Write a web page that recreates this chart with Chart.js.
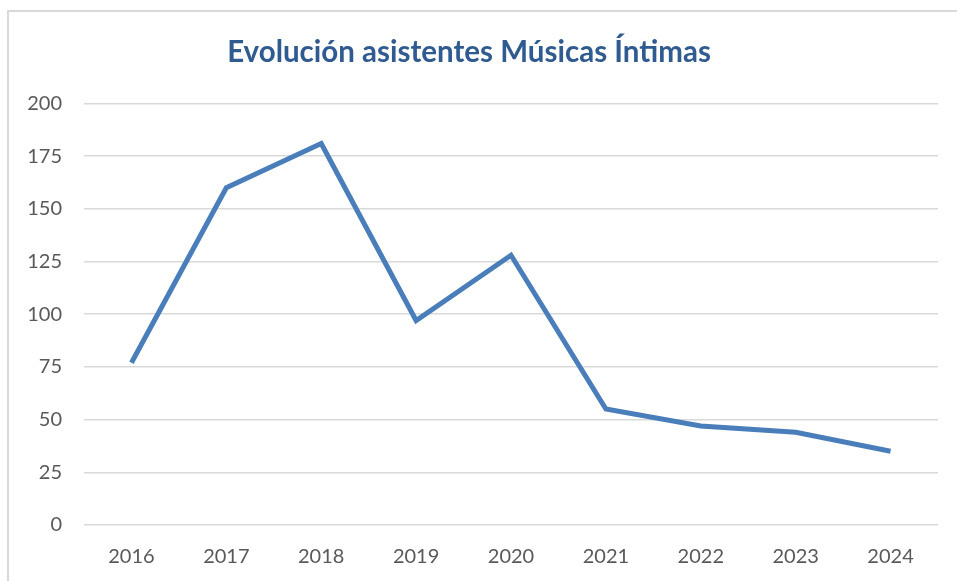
<!DOCTYPE html>
<html>
<head>
<meta charset="utf-8">
<script src="https://cdn.jsdelivr.net/npm/chart.js@4"></script>
<style>
  html, body { margin: 0; padding: 0; background: #fff; overflow: hidden; }
  #frame {
    position: absolute; left: 7px; top: 10px;
    width: 980px; height: 620px;
    border: 2px solid #d9d9d9;
  }
  #wrap { position: absolute; left: 0; top: 0; width: 957px; height: 581px; }
</style>
</head>
<body>
<div id="frame"></div>
<div id="wrap"><canvas id="chart" width="957" height="581"></canvas></div>
<script>
// Datos
const years = ["2016", "2017", "2018", "2019", "2020", "2021", "2022", "2023", "2024"];
const asistentes = [77, 160, 181, 97, 128, 55, 47, 44, 35];
const titulo = "Evolución asistentes Músicas Íntimas";

const fontFam = "Lato, 'Open Sans', sans-serif";

new Chart(document.getElementById("chart"), {
    type: "line",
    data: {
        labels: years,
        datasets: [{
            label: "Asistentes",
            data: asistentes,
            borderColor: "#4a7ebb",
            borderWidth: 5,
            pointRadius: 0,
            tension: 0,
            fill: false,
            borderJoinStyle: "miter"
        }]
    },
    options: {
        responsive: false,
        animation: false,
        layout: { padding: { left: 0, right: 19, top: 0, bottom: 0 } },
        plugins: {
            legend: { display: false },
            tooltip: { enabled: false },
            title: {
                display: true,
                text: titulo,
                color: "#2f5b91",
                font: { family: fontFam, size: 29.5, weight: "bold" },
                padding: { top: 35, bottom: 33 }
            }
        },
        scales: {
            x: {
                offset: true,
                grid: { display: false },
                border: { display: false },
                ticks: {
                    color: "#595959",
                    font: { family: fontFam, size: 20 },
                    padding: 12,
                    maxRotation: 0
                },
                afterFit: s => { s.height = 56; }
            },
            y: {
                min: 0,
                max: 200,
                ticks: {
                    stepSize: 25,
                    color: "#595959",
                    font: { family: fontFam, size: 20 },
                    padding: 22
                },
                grid: { color: "#d9d9d9", lineWidth: 1.5, drawTicks: false },
                border: { display: false },
                afterFit: s => { s.width = 84; }
            }
        }
    }
});
</script>
</body>
</html>
